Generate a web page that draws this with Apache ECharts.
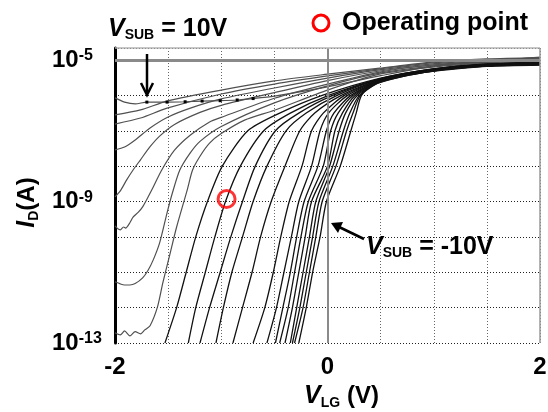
<!DOCTYPE html>
<html>
<head>
<meta charset="utf-8">
<title>I_D - V_LG</title>
<script src="https://cdn.jsdelivr.net/npm/echarts@6.0.0/dist/echarts.min.js"></script>
<style>
html,body{margin:0;padding:0;background:#ffffff;}
#chart{width:548px;height:412px;}
</style>
</head>
<body>
<div id="chart"></div>
<script>
// Each curve: [V_LG (V), log10(I_D / A)]; one curve per substrate bias, V_SUB = 10 V first
const curve01 = [[-2.00,-6.07],[-1.91,-6.19],[-1.81,-6.24],[-1.70,-6.19],[-1.51,-6.19],[-1.34,-6.18],[-1.18,-6.16],[-1.01,-6.15],[-0.85,-6.13],[-0.70,-6.09],[-0.50,-6.02],[0.00,-5.76],[0.49,-5.45],[0.99,-5.17],[1.50,-5.03],[2.00,-4.92]];
const curve02 = [[-2.00,-6.55],[-1.76,-6.41],[-1.51,-6.16],[-1.00,-5.85],[-0.50,-5.59],[0.00,-5.40],[0.49,-5.23],[0.99,-5.06],[1.50,-4.97],[2.00,-4.93]];
const curve03 = [[-2.00,-6.81],[-1.76,-6.64],[-1.51,-6.36],[-1.00,-5.96],[-0.50,-5.68],[0.00,-5.45],[0.49,-5.25],[0.99,-5.08],[1.50,-5.00],[2.00,-4.94]];
const curve04 = [[-2.00,-7.54],[-1.91,-7.46],[-1.81,-7.26],[-1.67,-6.92],[-1.50,-6.61],[-1.29,-6.36],[-1.00,-6.10],[-0.50,-5.79],[0.00,-5.51],[0.49,-5.28],[0.99,-5.11],[1.50,-5.00],[2.00,-4.95]];
const curve05 = [[-2.00,-8.87],[-1.95,-8.70],[-1.89,-8.39],[-1.83,-8.11],[-1.76,-7.82],[-1.67,-7.45],[-1.58,-7.15],[-1.44,-6.82],[-1.20,-6.48],[-1.00,-6.28],[-0.50,-5.92],[0.00,-5.58],[0.49,-5.31],[0.99,-5.14],[1.50,-5.03],[2.00,-4.97]];
const curve06 = [[-2.00,-9.69],[-1.97,-9.78],[-1.95,-9.80],[-1.92,-9.72],[-1.90,-9.75],[-1.86,-9.60],[-1.83,-9.44],[-1.78,-9.30],[-1.74,-9.15],[-1.69,-8.88],[-1.64,-8.59],[-1.56,-8.11],[-1.44,-7.55],[-1.29,-7.12],[-1.11,-6.75],[-1.00,-6.62],[-0.50,-6.08],[0.00,-5.68],[0.49,-5.34],[0.99,-5.14],[1.50,-5.06],[2.00,-4.98]];
const curve07 = [[-2.00,-11.27],[-1.95,-11.33],[-1.91,-11.36],[-1.86,-11.36],[-1.81,-11.32],[-1.74,-11.16],[-1.69,-10.95],[-1.64,-10.65],[-1.58,-10.17],[-1.51,-9.32],[-1.46,-8.76],[-1.39,-8.11],[-1.29,-7.62],[-1.20,-7.30],[-1.00,-6.88],[-0.50,-6.21],[0.00,-5.73],[0.49,-5.37],[0.99,-5.17],[1.50,-5.06],[2.00,-5.00]];
const curve08 = [[-2.00,-12.71],[-1.95,-12.77],[-1.91,-12.66],[-1.86,-12.80],[-1.81,-12.68],[-1.76,-12.74],[-1.72,-12.63],[-1.67,-12.51],[-1.60,-11.98],[-1.55,-11.30],[-1.48,-10.45],[-1.42,-9.72],[-1.32,-8.67],[-1.27,-8.11],[-1.20,-7.72],[-1.11,-7.35],[-1.00,-7.08],[-0.78,-6.70],[-0.50,-6.42],[0.00,-5.85],[0.49,-5.40],[0.99,-5.20],[1.50,-5.08],[2.00,-5.02]];
const curve09 = [[-1.53,-13.00],[-1.42,-12.00],[-1.33,-11.00],[-1.24,-10.00],[-1.13,-9.00],[-0.99,-8.00],[-0.75,-7.00],[-0.45,-6.50],[-0.05,-6.00],[0.49,-5.52],[0.99,-5.25],[1.50,-5.11],[2.00,-5.05]];
const curve10 = [[-1.31,-13.00],[-1.24,-12.00],[-1.15,-11.00],[-1.06,-10.00],[-0.96,-9.00],[-0.82,-8.00],[-0.60,-7.00],[-0.35,-6.50],[0.01,-6.00],[0.49,-5.53],[0.99,-5.26],[1.50,-5.12],[2.00,-5.06]];
const curve11 = [[-1.20,-13.00],[-1.11,-12.00],[-1.01,-11.00],[-0.91,-10.00],[-0.80,-9.00],[-0.68,-8.00],[-0.49,-7.00],[-0.27,-6.50],[0.05,-6.00],[0.49,-5.54],[0.99,-5.26],[1.50,-5.12],[2.00,-5.07]];
const curve12 = [[-1.05,-13.00],[-0.98,-12.00],[-0.90,-11.00],[-0.80,-10.00],[-0.70,-9.00],[-0.57,-8.00],[-0.39,-7.00],[-0.20,-6.50],[0.09,-6.00],[0.49,-5.55],[0.99,-5.27],[1.50,-5.13],[2.00,-5.08]];
const curve13 = [[-0.89,-13.00],[-0.80,-12.00],[-0.71,-11.00],[-0.63,-10.00],[-0.53,-9.00],[-0.40,-8.00],[-0.26,-7.00],[-0.12,-6.50],[0.13,-6.00],[0.49,-5.56],[0.99,-5.27],[1.50,-5.13],[2.00,-5.09]];
const curve14 = [[-0.70,-13.00],[-0.59,-12.00],[-0.51,-11.00],[-0.44,-10.00],[-0.36,-9.00],[-0.24,-8.00],[-0.15,-7.00],[-0.04,-6.50],[0.16,-6.00],[0.49,-5.57],[0.99,-5.28],[1.50,-5.14],[2.00,-5.10]];
const curve15 = [[-0.57,-13.00],[-0.48,-12.00],[-0.41,-11.00],[-0.34,-10.00],[-0.27,-9.00],[-0.15,-8.00],[-0.07,-7.00],[0.01,-6.50],[0.19,-6.00],[0.49,-5.58],[0.99,-5.28],[1.50,-5.14],[2.00,-5.10]];
const curve16 = [[-0.49,-13.00],[-0.42,-12.00],[-0.35,-11.00],[-0.29,-10.00],[-0.22,-9.00],[-0.09,-8.00],[-0.01,-7.00],[0.06,-6.50],[0.22,-6.00],[0.49,-5.59],[0.99,-5.29],[1.50,-5.15],[2.00,-5.11]];
const curve17 = [[-0.45,-13.00],[-0.37,-12.00],[-0.31,-11.00],[-0.25,-10.00],[-0.18,-9.00],[-0.04,-8.00],[0.03,-7.00],[0.10,-6.50],[0.24,-6.00],[0.49,-5.60],[0.99,-5.29],[1.50,-5.15],[2.00,-5.11]];
const curve18 = [[-0.40,-13.00],[-0.33,-12.00],[-0.27,-11.00],[-0.21,-10.00],[-0.15,-9.00],[0.00,-8.00],[0.07,-7.00],[0.14,-6.50],[0.26,-6.00],[0.49,-5.61],[0.99,-5.30],[1.50,-5.16],[2.00,-5.12]];
const curve19 = [[-0.35,-13.00],[-0.29,-12.00],[-0.23,-11.00],[-0.17,-10.00],[-0.11,-9.00],[0.02,-8.00],[0.11,-7.00],[0.17,-6.50],[0.28,-6.00],[0.49,-5.62],[0.99,-5.30],[1.50,-5.16],[2.00,-5.12]];
const curve20 = [[-0.33,-13.00],[-0.26,-12.00],[-0.20,-11.00],[-0.14,-10.00],[-0.08,-9.00],[0.05,-8.00],[0.15,-7.00],[0.21,-6.50],[0.30,-6.00],[0.49,-5.63],[0.99,-5.31],[1.50,-5.17],[2.00,-5.13]];
const curve21 = [[-0.31,-13.00],[-0.23,-12.00],[-0.17,-11.00],[-0.11,-10.00],[-0.05,-9.00],[0.08,-8.00],[0.18,-7.00],[0.24,-6.50],[0.31,-6.00],[0.49,-5.64],[0.99,-5.31],[1.50,-5.17],[2.00,-5.13]];
const curve22 = [[-0.27,-13.00],[-0.20,-12.00],[-0.14,-11.00],[-0.07,-10.00],[-0.01,-9.00],[0.12,-8.00],[0.22,-7.00],[0.27,-6.50],[0.32,-6.00],[0.44,-5.66],[0.68,-5.45],[0.99,-5.32],[1.50,-5.18],[2.00,-5.14]];

// operating point [V_LG, log10(I_D)]
const opPoint = [[-0.95, -8.93]];
// indices of the measured points drawn as small squares on the V_SUB = 10 V curve
const markedIdx = [3, 4, 5, 6, 7, 8, 9];

// axes
const xMin = -2, xMax = 2, xStep = 0.5;
const yMin = -13, yMax = -4.66, yStep = 1;
const xLabelValues = [-2, 0, 2];
const yLabelExponents = [-5, -9, -13];

const FONT = '"Liberation Sans", Arial, sans-serif';
const curves = [curve01,curve02,curve03,curve04,curve05,curve06,curve07,curve08,curve09,curve10,curve11,
                curve12,curve13,curve14,curve15,curve16,curve17,curve18,curve19,curve20,curve21,curve22];

const series = curves.map((d, i) => {
  const data = d.map((p, j) => (i === 0 && markedIdx.includes(j))
    ? {value: p, symbol: 'rect', symbolSize: 3, itemStyle: {color: '#000'}}
    : {value: p});
  return {
    type: 'line', name: 'c' + (i + 1), data: data,
    symbol: 'none', showSymbol: i === 0, showAllSymbol: true,
    smooth: 0.25, silent: true, z: 3,
    lineStyle: {color: i < 8 ? '#505050' : '#111111', width: i < 8 ? 1.2 : 1.3}
  };
});

series.push({
  type: 'line', data: [], silent: true, z: 2,
  markLine: {
    silent: true, symbol: 'none', animation: false, label: {show: false},
    data: [
      {xAxis: 0, lineStyle: {color: '#8a8a8a', width: 2, type: 'solid'}},
      {yAxis: -5, lineStyle: {color: '#8a8a8a', width: 3, type: 'solid'}},
      {yAxis: yMax, lineStyle: {color: '#b5b5b5', width: 1.5, type: 'solid'}},
      {xAxis: xMax, lineStyle: {color: '#9a9a9a', width: 1.5, type: 'solid'}}
    ]
  }
});

series.push({
  type: 'scatter', name: 'Operating point', data: opPoint,
  symbol: 'circle', symbolSize: 17, z: 10, silent: true,
  itemStyle: {color: 'rgba(0,0,0,0)', borderColor: '#ff0000', borderWidth: 3}
});

const chart = echarts.init(document.getElementById('chart'), null, {renderer: 'canvas'});
chart.setOption({
  animation: false,
  backgroundColor: '#ffffff',
  grid: {left: 115, right: 8, top: 48, bottom: 69, containLabel: false, outerBoundsMode: 'none'},
  xAxis: {
    type: 'value', min: xMin, max: xMax, interval: xStep,
    axisLine: {show: false}, axisTick: {show: false},
    splitLine: {show: true, lineStyle: {color: '#666', width: 1, type: [1, 2]}},
    axisLabel: {
      margin: 12, color: '#000', fontFamily: FONT, fontWeight: 'bold', fontSize: 24,
      formatter: v => xLabelValues.some(t => Math.abs(t - v) < 1e-6) ? String(Math.round(v)) : ''
    },
    name: '{v|V}{s|LG}{n| (V)}', nameLocation: 'middle', nameGap: 38,
    nameTextStyle: {
      padding: [0, 0, 0, 28],
      rich: {
        v: {fontFamily: FONT, fontWeight: 'bold', fontStyle: 'italic', fontSize: 25, color: '#000', lineHeight: 28},
        s: {fontFamily: FONT, fontWeight: 'bold', fontSize: 14, color: '#000', lineHeight: 9, verticalAlign: 'bottom'},
        n: {fontFamily: FONT, fontWeight: 'bold', fontSize: 24, color: '#000', lineHeight: 28}
      }
    }
  },
  yAxis: {
    type: 'value', min: yMin, max: yMax, interval: yStep,
    axisLine: {show: true, onZero: false, lineStyle: {color: '#000', width: 3}},
    axisTick: {show: false},
    splitLine: {show: true, lineStyle: {color: '#222', width: 1, type: [1, 2]}},
    axisLabel: {
      margin: 63, align: 'left', verticalAlign: 'middle',
      formatter: v => {
        const r = Math.round(v);
        return (Math.abs(v - r) < 1e-6 && yLabelExponents.includes(r)) ? '{b|10}{e|' + r + '}' : '';
      },
      rich: {
        b: {fontFamily: FONT, fontWeight: 'bold', fontSize: 24, color: '#000', lineHeight: 24},
        e: {fontFamily: FONT, fontWeight: 'bold', fontSize: 16, color: '#000', lineHeight: 14, verticalAlign: 'top'}
      }
    },
    name: '{v|I}{s|D}{n|(A)}', nameLocation: 'middle', nameGap: 63, nameRotate: 90,
    nameTextStyle: {
      padding: [0, 14, 0, 0],
      rich: {
        v: {fontFamily: FONT, fontWeight: 'bold', fontStyle: 'italic', fontSize: 25, color: '#000', lineHeight: 28},
        s: {fontFamily: FONT, fontWeight: 'bold', fontSize: 14, color: '#000', lineHeight: 9, verticalAlign: 'bottom'},
        n: {fontFamily: FONT, fontWeight: 'bold', fontSize: 24, color: '#000', lineHeight: 28}
      }
    }
  },
  graphic: [
    {type: 'text', x: 108, y: 29, z: 100, silent: true, style: {
      text: '{v|V}{s|SUB}{t| = 10V}', align: 'left', verticalAlign: 'middle',
      rich: {
        v: {fontFamily: FONT, fontWeight: 'bold', fontStyle: 'italic', fontSize: 25, fill: '#000', lineHeight: 26},
        s: {fontFamily: FONT, fontWeight: 'bold', fontSize: 14, fill: '#000', lineHeight: 8, verticalAlign: 'bottom'},
        t: {fontFamily: FONT, fontWeight: 'bold', fontSize: 25, fill: '#000', lineHeight: 26}
      }}},
    {type: 'line', z: 100, silent: true, shape: {x1: 147, y1: 54, x2: 147, y2: 92}, style: {stroke: '#000', lineWidth: 2.5}},
    {type: 'polyline', z: 100, silent: true, shape: {points: [[141, 83], [147, 95], [153, 83]]}, style: {stroke: '#000', lineWidth: 2.5, fill: null}},
    {type: 'text', x: 366, y: 247, z: 100, silent: true, style: {
      text: '{v|V}{s|SUB}{t| = -10V}', align: 'left', verticalAlign: 'middle',
      rich: {
        v: {fontFamily: FONT, fontWeight: 'bold', fontStyle: 'italic', fontSize: 25, fill: '#000', lineHeight: 26},
        s: {fontFamily: FONT, fontWeight: 'bold', fontSize: 14, fill: '#000', lineHeight: 8, verticalAlign: 'bottom'},
        t: {fontFamily: FONT, fontWeight: 'bold', fontSize: 25, fill: '#000', lineHeight: 26}
      }}},
    {type: 'line', z: 100, silent: true, shape: {x1: 364, y1: 239, x2: 337, y2: 226}, style: {stroke: '#000', lineWidth: 2.5}},
    {type: 'polygon', z: 100, silent: true, shape: {points: [[331, 223], [343, 222], [338, 233]]}, style: {fill: '#000'}},
    {type: 'circle', z: 100, silent: true, shape: {cx: 321, cy: 23, r: 8}, style: {stroke: '#ff0000', lineWidth: 3, fill: null}},
    {type: 'text', x: 342, y: 23, z: 100, silent: true, style: {
      text: 'Operating point', align: 'left', verticalAlign: 'middle',
      fontFamily: FONT, fontWeight: 'bold', fontSize: 25, fill: '#000'}}
  ],
  series: series
});
</script>
</body>
</html>
